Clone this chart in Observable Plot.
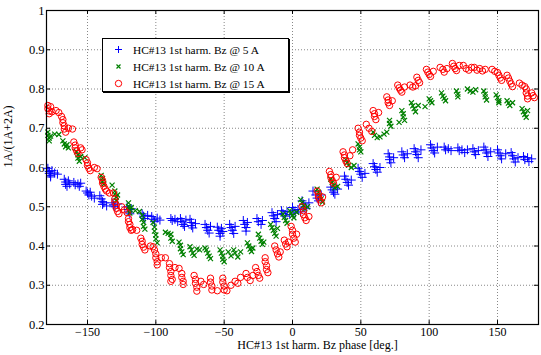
<!DOCTYPE html>
<html><head><meta charset="utf-8">
<script src="https://cdn.jsdelivr.net/npm/d3@7"></script>
<script src="https://cdn.jsdelivr.net/npm/@observablehq/plot@0.6"></script>
<style>
body{margin:0;background:#fff;}
#wrap{position:relative;width:541px;height:355px;font-family:"Liberation Serif","Times New Roman",serif;}
#legend{position:absolute;left:102px;top:38px;width:187px;height:54px;border:1px solid #000;box-shadow:1px 1px 0 #000;background:#fff;font-size:11.4px;color:#000;box-sizing:border-box;padding-top:2px;font-family:"Liberation Serif",serif;}
#legend .row{height:17px;display:flex;align-items:center;white-space:nowrap;}
#legend svg{width:30px;height:17px;flex:none;}
</style>
</head><body>
<div id="wrap"><div id="legend"></div></div>
<script>
// ---- data: [phase (deg), 1A/(1A+2A)] ----
const seriesNames = ["HC#13 1st harm. Bz @ 5 A", "HC#13 1st harm. Bz @ 10 A", "HC#13 1st harm. Bz @ 15 A"];
const seriesColors = ["#0000ff", "#008000", "#ff0000"];
const xTicks = [-150, -100, -50, 0, 50, 100, 150];
const yTicks = [0.2, 0.3, 0.4, 0.5, 0.6, 0.7, 0.8, 0.9, 1];

const bz5 = [
[-179,0.598],[-178,0.59],[-178,0.585],[-177,0.58],[-176,0.592],[-177,0.576],[-174,0.586],[-172,0.583],
[-167,0.57],[-166,0.563],[-166,0.557],[-165,0.552],[-164,0.566],[-163,0.558],
[-160,0.562],[-159,0.556],[-157,0.558],[-156,0.552],[-155,0.56],
[-151,0.54],[-150,0.535],[-149,0.53],[-148,0.537],[-147,0.527],[-145,0.522],
[-141,0.528],[-140,0.52],[-139,0.513],[-139,0.506],[-138,0.51],[-136,0.502],
[-132,0.51],[-131,0.505],[-130,0.5],[-128,0.507],
[-121,0.5],[-120,0.493],[-120,0.487],[-119,0.482],[-118,0.495],
[-110,0.482],[-109,0.476],[-108,0.47],[-106,0.478],
[-103,0.475],[-102,0.468],[-101,0.462],[-99,0.471],[-97,0.466],
[-89,0.47],[-88,0.465],[-86,0.468],[-84,0.462],
[-82,0.47],[-81,0.462],[-80,0.455],[-79,0.45],[-78,0.466],
[-75,0.468],[-74,0.46],[-74,0.452],[-73,0.446],[-71,0.457],
[-64,0.455],[-63,0.447],[-62,0.44],[-61,0.433],[-60,0.45],
[-55,0.448],[-54,0.44],[-53,0.432],[-53,0.425],[-52,0.445],[-51,0.437],
[-46,0.455],[-45,0.447],[-44,0.44],[-43,0.432],[-42,0.45],
[-36,0.465],[-35,0.455],[-34,0.447],[-34,0.438],[-33,0.46],
[-26,0.47],[-25,0.462],[-23,0.455],[-22,0.465],
[-15,0.485],[-14,0.477],[-13,0.47],[-12,0.462],[-11,0.48],
[-8,0.49],[-7,0.483],[-5,0.476],[-4,0.488],[-2,0.48],
[0,0.498],[1,0.49],[2,0.484],[4,0.493],[6,0.487],
[7,0.515],[8,0.507],[9,0.5],[10,0.495],[12,0.51],
[15,0.54],[17,0.53],[18,0.522],[19,0.515],[21,0.53],
[28,0.55],[29,0.543],[30,0.537],[31,0.532],[33,0.545],
[38,0.578],[39,0.57],[40,0.562],[41,0.555],[43,0.568],
[48,0.598],[49,0.59],[50,0.583],[51,0.575],[53,0.585],
[59,0.61],[60,0.602],[61,0.595],[62,0.588],[64,0.6],
[70,0.635],[71,0.627],[71,0.62],[72,0.612],[74,0.625],
[80,0.64],[81,0.632],[82,0.625],[84,0.635],
[89,0.648],[90,0.64],[91,0.633],[92,0.625],[94,0.645],
[101,0.658],[102,0.65],[103,0.643],[104,0.637],[106,0.652],
[111,0.652],[112,0.645],[114,0.648],[116,0.643],
[121,0.65],[122,0.643],[124,0.645],[126,0.638],[128,0.645],
[132,0.648],[133,0.64],[134,0.633],[136,0.643],
[140,0.652],[141,0.645],[142,0.637],[143,0.628],[145,0.64],
[150,0.645],[151,0.637],[152,0.63],[153,0.622],[156,0.635],
[160,0.638],[161,0.63],[162,0.622],[163,0.614],[165,0.625],
[169,0.628],[170,0.62],[172,0.625],[173,0.615],[175,0.622]
];

const bz10 = [
[-179,0.69],[-179,0.682],[-178,0.675],[-178,0.668],[-177,0.68],[-174,0.685],[-171,0.684],
[-168,0.668],[-167,0.66],[-166,0.653],[-165,0.658],[-164,0.65],
[-158,0.64],[-157,0.632],[-157,0.624],[-156,0.616],[-155,0.628],[-152,0.625],
[-140,0.58],[-139,0.572],[-139,0.565],[-138,0.558],[-132,0.555],
[-130,0.54],[-130,0.532],[-129,0.524],[-129,0.516],[-128,0.53],
[-120,0.51],[-120,0.5],[-119,0.492],[-119,0.484],[-118,0.498],[-115,0.49],[-112,0.488],
[-110,0.478],[-110,0.468],[-109,0.46],[-109,0.45],[-108,0.443],
[-102,0.46],[-101,0.448],[-101,0.438],[-100,0.428],[-100,0.418],[-99,0.408],
[-93,0.435],[-91,0.432],
[-89,0.43],[-89,0.42],[-88,0.412],
[-83,0.41],[-82,0.402],[-82,0.393],[-81,0.385],[-80,0.378],
[-75,0.398],[-74,0.39],[-73,0.382],[-72,0.376],[-70,0.392],[-68,0.39],
[-64,0.395],[-63,0.39],[-62,0.382],[-61,0.374],[-60,0.368],
[-53,0.39],[-52,0.382],[-51,0.374],[-51,0.366],[-50,0.36],
[-47,0.385],[-45,0.375],[-43,0.39],[-42,0.382],[-40,0.372],[-38,0.385],
[-33,0.408],[-32,0.4],[-31,0.392],[-30,0.386],[-29,0.395],
[-25,0.43],[-24,0.42],[-23,0.412],[-22,0.404],[-21,0.41],
[-16,0.455],[-15,0.447],[-14,0.44],[-13,0.432],[-12,0.425],[-11,0.445],
[-7,0.482],[-6,0.473],[-5,0.465],[-4,0.458],
[-2,0.49],[-1,0.484],[0,0.478],[1,0.472],[3,0.486],
[6,0.518],[7,0.51],[8,0.503],[9,0.495],[11,0.5],
[18,0.545],[19,0.537],[20,0.528],[21,0.52],[22,0.512],
[28,0.57],[29,0.562],[30,0.555],[31,0.548],[33,0.552],
[39,0.62],[40,0.612],[41,0.606],[43,0.6],[45,0.605],
[48,0.66],[49,0.652],[49,0.645],[50,0.64],
[59,0.69],[60,0.682],[62,0.676],[64,0.678],[67,0.685],[69,0.69],
[71,0.72],[71,0.712],[72,0.705],
[78,0.715],[80,0.745],[81,0.737],[81,0.729],[82,0.72],
[87,0.765],[88,0.757],[89,0.75],[90,0.742],[92,0.758],
[97,0.755],
[100,0.775],[101,0.77],[102,0.765],
[109,0.79],[110,0.782],[111,0.776],[112,0.77],
[120,0.795],[121,0.787],[121,0.78],
[128,0.8],[130,0.795],[132,0.792],[134,0.798],
[140,0.795],[141,0.787],[141,0.78],[142,0.772],
[149,0.785],[150,0.778],[151,0.77],[151,0.765],
[157,0.77],[158,0.764],[159,0.758],[161,0.765],
[168,0.75],[169,0.742],[170,0.735],[171,0.728],[172,0.745]
];

const bz15 = [
[-179,0.758],[-179,0.75],[-178,0.744],[-178,0.737],[-177,0.755],[-176,0.742],[-173,0.745],[-171,0.74],
[-169,0.73],[-168,0.722],[-168,0.714],[-167,0.706],[-167,0.698],[-166,0.69],[-164,0.7],[-161,0.698],
[-160,0.665],[-159,0.657],[-159,0.65],[-158,0.643],[-157,0.636],[-155,0.65],[-154,0.645],
[-151,0.62],[-150,0.612],[-150,0.605],[-149,0.598],[-148,0.592],[-145,0.6],[-143,0.597],
[-140,0.575],[-139,0.567],[-139,0.56],[-138,0.552],[-137,0.545],[-136,0.54],[-134,0.535],[-131,0.535],
[-130,0.52],[-130,0.512],[-129,0.504],[-129,0.496],[-128,0.488],[-127,0.482],[-125,0.5],[-123,0.492],[-121,0.485],
[-120,0.47],[-120,0.462],[-119,0.455],[-119,0.447],[-118,0.44],[-117,0.442],[-114,0.44],
[-111,0.42],[-110,0.412],[-110,0.404],[-109,0.397],[-108,0.39],[-104,0.4],[-102,0.398],
[-101,0.39],[-100,0.38],[-100,0.37],[-99,0.36],[-99,0.352],[-96,0.37],[-93,0.37],
[-90,0.355],[-90,0.345],[-89,0.335],[-89,0.325],[-88,0.315],[-89,0.31],[-86,0.345],[-83,0.343],
[-81,0.33],[-81,0.32],[-80,0.31],[-80,0.302],
[-72,0.325],[-71,0.315],[-71,0.305],[-70,0.295],[-70,0.285],[-67,0.31],[-65,0.302],
[-60,0.318],[-60,0.308],[-59,0.298],[-59,0.288],[-55,0.286],
[-51,0.318],[-51,0.308],[-50,0.298],[-50,0.288],[-48,0.286],[-45,0.3],
[-42,0.31],[-40,0.305],[-38,0.32],
[-34,0.33],[-33,0.32],[-31,0.312],[-29,0.325],
[-27,0.345],[-26,0.335],[-25,0.325],[-24,0.318],
[-20,0.37],[-20,0.36],[-19,0.35],[-19,0.34],[-18,0.332],
[-13,0.4],[-12,0.39],[-11,0.38],[-10,0.372],[-9,0.385],
[-6,0.415],[-5,0.405],[-4,0.398],[-3,0.41],
[-1,0.45],[0,0.44],[0,0.43],[1,0.42],[2,0.41],[3,0.43],
[7,0.5],[8,0.49],[8,0.48],[9,0.472],[10,0.465],[12,0.475],
[18,0.54],[19,0.532],[19,0.525],[20,0.518],[21,0.51],[22,0.525],
[27,0.59],[28,0.582],[28,0.575],[29,0.567],[30,0.56],[32,0.575],
[37,0.64],[38,0.632],[38,0.625],[39,0.617],[40,0.61],[42,0.63],[44,0.645],
[48,0.7],[49,0.69],[49,0.682],[50,0.675],[51,0.668],
[54,0.71],[56,0.7],[58,0.692],
[59,0.745],[60,0.737],[60,0.73],[61,0.722],[63,0.74],
[69,0.78],[70,0.772],[70,0.765],[71,0.758],[73,0.77],
[77,0.81],[78,0.803],[79,0.797],[80,0.792],[82,0.805],
[86,0.81],[88,0.805],[90,0.808],
[91,0.83],[92,0.822],[93,0.816],
[98,0.85],[99,0.843],[100,0.837],[101,0.832],[103,0.845],
[108,0.855],[110,0.85],[111,0.843],[113,0.852],
[117,0.865],[118,0.858],[119,0.852],[120,0.847],[122,0.86],
[125,0.86],[127,0.852],[129,0.848],[131,0.855],
[133,0.855],[135,0.848],[137,0.852],[139,0.846],[141,0.85],
[146,0.85],[148,0.845],[150,0.842],[151,0.835],[152,0.828],[153,0.822],
[157,0.835],[158,0.828],[159,0.82],[160,0.813],[161,0.806],
[166,0.815],[168,0.81],[170,0.806],
[171,0.8],[171,0.79],[172,0.782],[172,0.775],
[175,0.79],[176,0.783],[177,0.778]
];

const xDomain = [-180, 180];
const yDomain = [0.2, 1];
const font = '"Liberation Serif","Times New Roman",serif';

const chart = Plot.plot({
  width: 541, height: 355,
  marginLeft: 46, marginRight: 3, marginTop: 10, marginBottom: 31,
  style: {fontFamily: font, fontSize: "12px", color: "#000", background: "#fff"},
  x: {domain: xDomain},
  y: {domain: yDomain},
  marks: [
    Plot.gridX(xTicks, {stroke: "#888", strokeOpacity: 1, strokeDasharray: "1,2"}),
    Plot.gridY(yTicks, {stroke: "#888", strokeOpacity: 1, strokeDasharray: "1,2"}),
    Plot.axisX(xTicks, {tickSize: 0, tickPadding: 3, label: null, fontSize: 12}),
    Plot.axisY(yTicks, {tickSize: 0, tickPadding: 2, label: null, fontSize: 12.5, tickFormat: d => String(d)}),
    // inward ticks
    Plot.ruleX(xTicks, {x: d => d, y1: 0.2, y2: 0.21, stroke: "#000"}),
    Plot.ruleX(xTicks, {x: d => d, y1: 1, y2: 0.99, stroke: "#000"}),
    Plot.ruleY(yTicks, {y: d => d, x1: -180, x2: -177, stroke: "#000"}),
    Plot.ruleY(yTicks, {y: d => d, x1: 180, x2: 177, stroke: "#000"}),
    Plot.dot(bz5, {x: d => d[0], y: d => d[1], symbol: "plus", r: 3, stroke: seriesColors[0], strokeWidth: 1}),
    Plot.dot(bz10, {x: d => d[0], y: d => d[1], symbol: "times", r: 2.4, stroke: seriesColors[1], strokeWidth: 1.2}),
    Plot.dot(bz15, {x: d => d[0], y: d => d[1], symbol: "circle", r: 3.2, stroke: seriesColors[2], strokeWidth: 1, fill: "none"}),
    Plot.frame({stroke: "#000", strokeWidth: 1.2}),
    Plot.text(["HC#13 1st harm. Bz phase [deg.]"], {frameAnchor: "bottom", dy: 24, dx: 25, fontSize: 12}),
    Plot.text(["1A/(1A+2A)"], {frameAnchor: "left", rotate: -90, dx: -38, fontSize: 12})
  ]
});
document.getElementById("wrap").prepend(chart);

// legend (HTML overlay)
const symbols = [
  '<path d="M12,8.5h7M15.5,5v7" stroke="#0000ff" stroke-width="1" fill="none"/>',
  '<path d="M13.5,6.5l4,4M17.5,6.5l-4,4" stroke="#008000" stroke-width="1.2" fill="none"/>',
  '<circle cx="15.5" cy="8.5" r="3.2" stroke="#ff0000" stroke-width="1" fill="none"/>'
];
const leg = document.getElementById("legend");
seriesNames.forEach((name, i) => {
  const row = document.createElement("div");
  row.className = "row";
  row.innerHTML = `<svg viewBox="0 0 30 17">${symbols[i]}</svg><span>${name}</span>`;
  leg.appendChild(row);
});
</script>
</body></html>
